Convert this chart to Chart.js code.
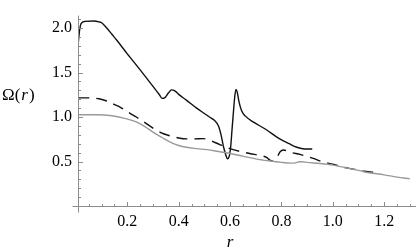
<!DOCTYPE html>
<html>
<head>
<meta charset="utf-8">
<script src="https://cdn.jsdelivr.net/npm/chart.js@4.4.1/dist/chart.umd.min.js"></script>
<style>
html,body{margin:0;padding:0;background:#fff;}
#wrap{width:416px;height:248px;}
</style>
</head>
<body>
<div id="wrap"><canvas id="c" width="416" height="248"></canvas></div>
<script>
// ---- data ----
const blackR = [0.009,0.014,0.02,0.035,0.07,0.09,0.10,0.12,0.14,0.16,0.20,0.25,0.30,0.325,0.335,0.345,0.36,0.372,0.385,0.40,0.43,0.47,0.50,0.52,0.54,0.555,0.565,0.575,0.585,0.59,0.597,0.603,0.608,0.613,0.618,0.623,0.628,0.635,0.645,0.66,0.69,0.74,0.79,0.83,0.86,0.89,0.92];
const blackOmega = [1.83,1.97,2.05,2.075,2.08,2.07,2.06,2.0,1.93,1.86,1.71,1.53,1.345,1.25,1.21,1.215,1.27,1.305,1.295,1.255,1.19,1.10,1.04,1.0,0.96,0.90,0.80,0.66,0.56,0.53,0.56,0.68,0.87,1.05,1.22,1.31,1.28,1.17,1.07,1.01,0.945,0.86,0.76,0.70,0.66,0.64,0.64];

const dashR = [0.009,0.05,0.09,0.12,0.15,0.17,0.20,0.235,0.27,0.30,0.33,0.365,0.40,0.43,0.46,0.495,0.52,0.56,0.612,0.677,0.72,0.742,0.755,0.765,0.775,0.785,0.795,0.807,0.84,0.872,0.924,0.957,1.0,1.04,1.08,1.12,1.158];
const dashOmega = [1.215,1.215,1.205,1.18,1.14,1.115,1.06,1.0,0.935,0.875,0.825,0.79,0.765,0.755,0.755,0.757,0.74,0.69,0.633,0.59,0.565,0.547,0.515,0.505,0.53,0.56,0.61,0.63,0.60,0.58,0.535,0.50,0.47,0.436,0.415,0.39,0.38];

const grayR = [0.009,0.08,0.14,0.19,0.235,0.27,0.30,0.335,0.365,0.40,0.43,0.47,0.51,0.55,0.60,0.65,0.70,0.75,0.80,0.84,0.855,0.87,0.88,0.90,0.95,1.0,1.04,1.10,1.13,1.20,1.25,1.30];
const grayOmega = [1.025,1.025,1.015,0.985,0.945,0.89,0.83,0.77,0.72,0.68,0.66,0.645,0.633,0.615,0.59,0.56,0.53,0.508,0.49,0.482,0.485,0.497,0.497,0.49,0.478,0.46,0.437,0.40,0.38,0.35,0.325,0.305];

const xTicks = [0.2,0.4,0.6,0.8,1.0,1.2];
const yTicks = [0.5,1.0,1.5,2.0];
const xLabel = "r";
const yLabelMain = "Ω(";
const yLabelVar = "r";
const yLabelEnd = ")";

const SERIF = '"Liberation Serif", "Times New Roman", serif';
const pts = (rs, vs) => rs.map((r, i) => ({x: r, y: vs[i]}));

const axisPlugin = {
  id: 'mathAxes',
  afterDraw(chart) {
    const ctx = chart.ctx;
    const xs = chart.scales.x, ys = chart.scales.y;
    const x0 = Math.round(xs.left) + 0.5;
    const yb = Math.round(ys.getPixelForValue(0)) + 0.5;
    ctx.save();
    ctx.strokeStyle = '#8c8c8c';
    ctx.lineWidth = 1;
    ctx.beginPath();
    ctx.moveTo(x0, ys.top); ctx.lineTo(x0, yb + 6);
    ctx.moveTo(x0 - 6, yb); ctx.lineTo(xs.right, yb);
    for (let k = 1; k <= 21; k++) {
      const v = k / 10;
      const y = Math.round(ys.getPixelForValue(v)) + 0.5;
      const len = (k % 5 === 0) ? 4.5 : 2.5;
      ctx.moveTo(x0, y); ctx.lineTo(x0 + len, y);
    }
    for (let k = 1; k <= 26; k++) {
      const r = k * 0.05;
      const x = Math.round(xs.getPixelForValue(r)) + 0.5;
      const len = (k % 4 === 0) ? 4.5 : 2.5;
      ctx.moveTo(x, yb); ctx.lineTo(x, yb - len);
    }
    ctx.stroke();
    ctx.fillStyle = '#000';
    ctx.textBaseline = 'alphabetic';
    ctx.textAlign = 'left';
    ctx.font = '17px ' + SERIF;
    let lx = 2, ly = 100;
    ctx.fillText(yLabelMain, lx, ly);
    lx += ctx.measureText(yLabelMain).width + 1;
    ctx.font = 'italic 17px ' + SERIF;
    ctx.fillText(yLabelVar, lx, ly);
    lx += ctx.measureText(yLabelVar).width + 1;
    ctx.font = '17px ' + SERIF;
    ctx.fillText(yLabelEnd, lx, ly);
    ctx.font = 'italic 17px ' + SERIF;
    ctx.textAlign = 'center';
    ctx.fillText(xLabel, xs.getPixelForValue(0.60), 247);
    ctx.restore();
  }
};

new Chart(document.getElementById('c'), {
  type: 'scatter',
  data: {
    datasets: [
      {data: pts(grayR, grayOmega), showLine: true, borderColor: '#9a9a9a', borderWidth: 1.4, pointRadius: 0, cubicInterpolationMode: 'monotone'},
      {data: pts(dashR, dashOmega), showLine: true, borderColor: '#111', borderWidth: 1.4, borderDash: [11, 7], pointRadius: 0, cubicInterpolationMode: 'monotone'},
      {data: pts(blackR, blackOmega), showLine: true, borderColor: '#111', borderWidth: 1.4, pointRadius: 0, cubicInterpolationMode: 'monotone'}
    ]
  },
  options: {
    responsive: false,
    animation: false,
    devicePixelRatio: 1,
    layout: {padding: 0},
    plugins: {legend: {display: false}, tooltip: {enabled: false}},
    scales: {
      x: {
        type: 'linear', min: 0.008, max: 1.324,
        grid: {display: false, drawTicks: false},
        border: {display: false},
        afterBuildTicks: s => { s.ticks = xTicks.map(v => ({value: v})); },
        afterFit: s => { s.height = 42; },
        ticks: {padding: 6, color: '#000', font: {family: SERIF, size: 16}, maxRotation: 0,
                callback: v => Number(v).toFixed(1)}
      },
      y: {
        type: 'linear', min: 0, max: 2.14,
        grid: {display: false, drawTicks: false},
        border: {display: false},
        afterBuildTicks: s => { s.ticks = yTicks.map(v => ({value: v})); },
        afterFit: s => { s.width = 78; },
        ticks: {padding: 6, color: '#000', font: {family: SERIF, size: 16},
                callback: v => Number(v).toFixed(1)}
      }
    }
  },
  plugins: [axisPlugin]
});
</script>
</body>
</html>
